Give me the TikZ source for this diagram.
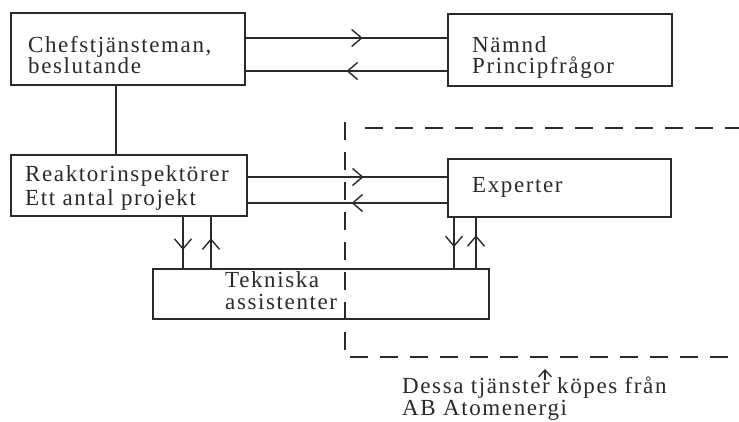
\documentclass[tikz,border=0pt]{standalone}
\usepackage{fontspec}
\setmainfont{Liberation Serif}[LetterSpace=7]
\usetikzlibrary{arrows.meta,decorations.markings}
\definecolor{ink}{HTML}{2A2A2A}
\tikzset{mybarb/.tip={Straight Barb[length=10pt,width=17pt,line width=1.4pt]}}
\begin{document}
\begin{tikzpicture}[x=1pt,y=-1pt,
  box/.style={draw=ink, line width=1.3pt, rectangle, anchor=north west, inner sep=0pt, outer sep=0pt},
  lbl/.style={anchor=base west, inner sep=0pt, align=left, text=ink, font=\fontsize{23}{20}\selectfont},
  link/.style={draw=ink, line width=1.2pt},
  midarrow/.style={link, postaction={decorate}, decoration={markings, mark=at position #1 with {\arrow{mybarb}}}},
  dashline/.style={draw=ink, line width=1.3pt, dash pattern=on 18pt off 12pt}]
\useasboundingbox[fill=white] (0,0) rectangle (739,421);

% boxes
\node[box, minimum width=234pt, minimum height=72pt] (chef) at (11,13) {};
\node[box, minimum width=224pt, minimum height=72pt] (namnd) at (448,14) {};
\node[box, minimum width=236pt, minimum height=61pt] (reakt) at (11,155) {};
\node[box, minimum width=223pt, minimum height=58pt] (exp) at (448,159) {};
\node[box, minimum width=336pt, minimum height=50pt] (tek) at (153,269) {};

% texts (anchored at the baseline of the last line)
\node[lbl] (chefT) at (28,73) {Chefstjänsteman,\\[-1pt]beslutande};
\node[lbl] (namT) at (472,73) {Nämnd\\[1pt]Principfrågor};
\node[lbl] (reT) at (25,205) {Reaktorinspektörer\\[2pt]Ett antal projekt};
\node[lbl] (expT) at (472,192) {Experter};
\node[lbl] (tekT) at (225,309) {Tekniska\\[2pt]assistenter};
\node[lbl] (dT) at (402,415) {Dessa tjänster köpes från\\AB Atomenergi};

% connectors
\draw[midarrow=0.58] (chef.east |- 0,38) -- (namnd.west |- 0,38);
\draw[midarrow=0.5] (namnd.west |- 0,71) -- (chef.east |- 0,71);
\draw[link] (chef.south -| 116,0) -- (reakt.north -| 116,0);
\draw[midarrow=0.58] (reakt.east |- 0,177) -- (exp.west |- 0,177);
\draw[midarrow=0.48] (exp.west |- 0,203) -- (reakt.east |- 0,203);
\draw[midarrow=0.64] (reakt.south -| 183,0) -- (tek.north -| 183,0);
\draw[midarrow=0.58] (tek.north -| 211,0) -- (reakt.south -| 211,0);
\draw[midarrow=0.58] (exp.south -| 454,0) -- (tek.north -| 454,0);
\draw[midarrow=0.65] (tek.north -| 476,0) -- (exp.south -| 476,0);

% dashed boundary
\draw[dashline] (345,122) -- (345,357) -- (739,357);
\draw[dashline] (365,128) -- (739,128);

% note arrow
\coordinate (dtip) at (545,369);
\coordinate (dfoot) at (545,380);
\draw[link, -{Straight Barb[length=7pt,width=13pt,line width=1.3pt]}] (dfoot) -- (dtip);
\end{tikzpicture}
\end{document}
